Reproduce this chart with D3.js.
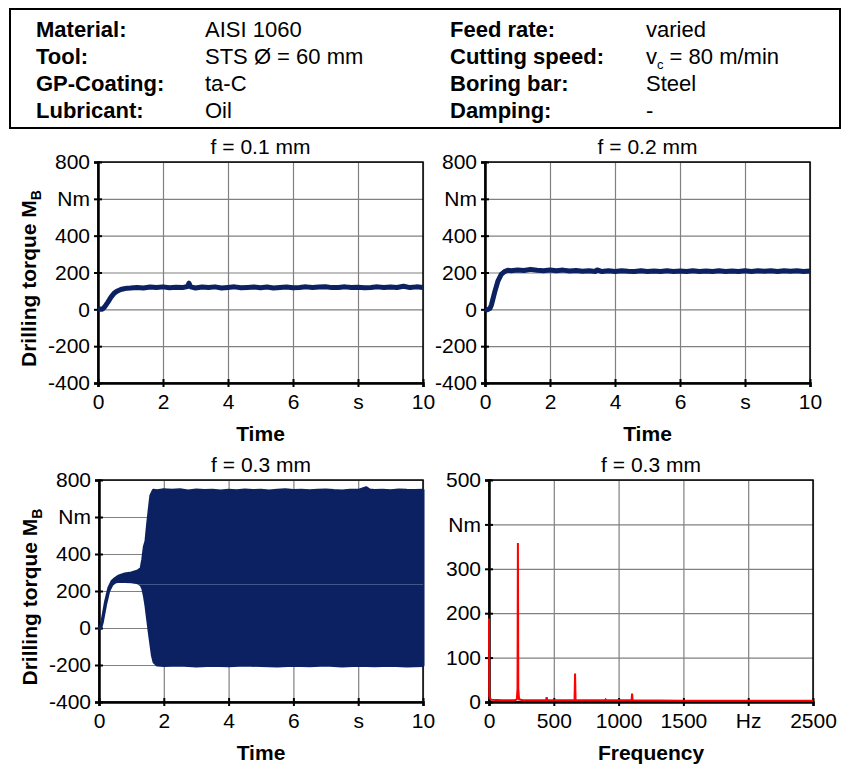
<!DOCTYPE html>
<html>
<head>
<meta charset="utf-8">
<script src="https://cdn.jsdelivr.net/npm/d3@7"></script>
<style>
body { margin: 0; background: #fff; }
text { font-family: "Liberation Sans", Arial, sans-serif; }
</style>
</head>
<body>
<div id="vis"></div>
<script>
// header table
var headLabelsLeft = ["Material:", "Tool:", "GP-Coating:", "Lubricant:"];
var headValuesLeft = ["AISI 1060", "STS Ø = 60 mm", "ta-C", "Oil"];
var headLabelsRight = ["Feed rate:", "Cutting speed:", "Boring bar:", "Damping:"];
var headValuesRight = ["varied", "v_c = 80 m/min", "Steel", "-"];

// axis ticks
var timeTicks = [0, 2, 4, 6, 8, 10];
var timeTickLabels = ["0", "2", "4", "6", "s", "10"];
var torqueTicks = [-400, -200, 0, 200, 400, 600, 800];
var torqueTickLabels = ["-400", "-200", "0", "200", "400", "Nm", "800"];
var freqTicks = [0, 500, 1000, 1500, 2000, 2500];
var freqTickLabels = ["0", "500", "1000", "1500", "Hz", "2500"];
var ampTicks = [0, 100, 200, 300, 400, 500];
var ampTickLabels = ["0", "100", "200", "300", "Nm", "500"];

// f = 0.1 mm  [time s, torque Nm]
var torque01 = [[0,4],[0.05,2],[0.1,0],[0.15,3],[0.2,12],[0.3,38],[0.4,66],[0.5,88],[0.6,100],[0.7,108],[0.8,112],
  [0.9,115],[1.0,116],[1.2,119],[1.4,116],[1.6,121],[1.8,118],[2.0,122],[2.2,117],[2.4,120],[2.6,118],[2.75,124],
  [2.8,142],[2.85,122],[3.0,116],[3.2,121],[3.4,118],[3.6,122],[3.8,116],[4.0,119],[4.2,122],[4.4,117],[4.6,119],
  [4.8,121],[5.0,117],[5.2,121],[5.4,116],[5.6,119],[5.8,121],[6.0,117],[6.2,119],[6.4,122],[6.6,118],[6.8,121],
  [7.0,123],[7.2,118],[7.4,119],[7.6,122],[7.8,118],[8.0,120],[8.2,117],[8.4,119],[8.6,122],[8.8,118],[9.0,121],
  [9.2,119],[9.4,125],[9.6,118],[9.8,122],[10,119]];

// f = 0.2 mm
var torque02 = [[0,2],[0.05,-3],[0.1,0],[0.15,4],[0.2,25],[0.3,95],[0.4,155],[0.5,190],[0.6,205],[0.7,212],[0.8,210],
  [1.0,214],[1.2,211],[1.4,217],[1.6,212],[1.8,210],[2.0,214],[2.2,209],[2.4,213],[2.6,208],[2.8,211],[3.0,207],
  [3.2,210],[3.4,206],[3.45,214],[3.6,205],[3.8,209],[4.0,206],[4.2,210],[4.4,207],[4.6,205],[4.8,209],[5.0,206],
  [5.2,208],[5.4,205],[5.6,209],[5.8,206],[6.0,208],[6.2,205],[6.4,209],[6.6,206],[6.8,208],[7.0,205],[7.2,209],
  [7.4,206],[7.6,208],[7.8,205],[8.0,209],[8.2,206],[8.4,210],[8.6,207],[8.8,209],[9.0,206],[9.2,210],[9.4,207],
  [9.6,209],[9.8,206],[10,208]];

// f = 0.3 mm, envelope of the chatter signal
var bandUpper = [[0,0],[0.05,2],[0.1,40],[0.2,140],[0.3,215],[0.4,252],[0.5,268],[0.6,280],[0.8,292],[1.0,298],
  [1.2,308],[1.3,322],[1.35,370],[1.4,440],[1.45,470],[1.5,560],[1.55,640],[1.6,715],[1.68,745],[1.8,742],[2.0,748],
  [2.25,744],[2.5,747],[2.75,741],[3.0,746],[3.25,743],[3.5,745],[3.75,740],[4.0,744],[4.25,742],[4.5,746],
  [4.75,743],[5.0,745],[5.25,741],[5.5,744],[5.75,747],[6.0,743],[6.25,745],[6.5,742],[6.75,744],[7.0,746],
  [7.25,743],[7.5,741],[7.75,745],[8.0,744],[8.25,758],[8.35,746],[8.5,743],[8.75,745],[9.0,742],[9.25,746],
  [9.5,744],[9.75,743],[10,745]];
var bandLower = [[0,0],[0.05,-2],[0.1,30],[0.2,125],[0.3,200],[0.4,235],[0.5,248],[0.6,252],[0.8,252],[1.0,250],
  [1.2,245],[1.3,232],[1.35,215],[1.4,175],[1.45,120],[1.5,50],[1.55,-20],[1.6,-85],[1.65,-150],[1.7,-185],
  [1.8,-200],[2.0,-203],[2.5,-200],[3.0,-205],[3.5,-201],[4.0,-204],[4.5,-200],[5.0,-203],[5.5,-206],[6.0,-202],
  [6.5,-204],[7.0,-200],[7.5,-205],[8.0,-202],[8.5,-204],[9.0,-201],[9.5,-205],[10,-203]];

// f = 0.3 mm, amplitude spectrum [Hz, Nm]
var spectrum = [[0,188],[2,15],[6,8],[20,5],[100,4],[200,4],[215,6],[220,30],[223,358],[226,30],[232,6],[260,4],
  [440,4],[445,11],[450,4],[660,4],[664,64],[668,4],[895,4],[900,6],[905,4],[1100,4],[1104,19],[1108,4],
  [1500,3],[2500,3]];

var navy = "#0b2161";
var fs = "21px";

var svg = d3.select("#vis").append("svg")
    .attr("width", 851)
    .attr("height", 767);

// ---- header box ----
svg.append("rect")
    .attr("x", 10).attr("y", 9)
    .attr("width", 830).attr("height", 119)
    .attr("fill", "none").attr("stroke", "#000").attr("stroke-width", 2);

var rowY = [37, 64, 91, 118];
function headCol(list, x, bold) {
    list.forEach(function(s, i) {
        var t = svg.append("text")
            .attr("x", x).attr("y", rowY[i])
            .style("font-size", "22px")
            .style("font-weight", bold ? "bold" : "normal");
        if (s.indexOf("_") > -1) {
            t.append("tspan").text("v");
            t.append("tspan").attr("dy", 5).style("font-size", "13px").text("c");
            t.append("tspan").attr("dy", -5).text(s.split("_c")[1]);
        } else {
            t.text(s);
        }
    });
}
headCol(headLabelsLeft, 36, true);
headCol(headValuesLeft, 205, false);
headCol(headLabelsRight, 450, true);
headCol(headValuesRight, 646, false);

// ---- panels ----
function panel(box, xDomain, xTicks, xLabels, yDomain, yTicks, yLabels, title, xTitle, yTitle) {
    var g = svg.append("g").attr("transform", "translate(" + box.x0 + "," + box.y0 + ")");
    var w = box.x1 - box.x0, h = box.y1 - box.y0;
    var x = d3.scaleLinear().domain(xDomain).range([0, w]);
    var y = d3.scaleLinear().domain(yDomain).range([h, 0]);

    // grid
    g.append("g").attr("class", "grid")
        .call(d3.axisLeft(y).tickValues(yTicks).tickSize(-w).tickFormat(""))
        .call(function(s) { s.select(".domain").remove(); });
    g.append("g").attr("class", "grid")
        .attr("transform", "translate(0," + h + ")")
        .call(d3.axisBottom(x).tickValues(xTicks).tickSize(-h).tickFormat(""))
        .call(function(s) { s.select(".domain").remove(); });
    g.selectAll(".grid line").attr("stroke", "#808080").attr("stroke-width", 1.2);

    // frame
    g.append("rect").attr("width", w).attr("height", h)
        .attr("fill", "none").attr("stroke", "#000").attr("stroke-width", 1.5);

    // axes
    var ya = g.append("g")
        .call(d3.axisLeft(y).tickValues(yTicks).tickSize(4).tickPadding(4)
            .tickFormat(function(d, i) { return yLabels[i]; }));
    var xa = g.append("g")
        .attr("transform", "translate(0," + h + ")")
        .call(d3.axisBottom(x).tickValues(xTicks).tickSize(4).tickPadding(7)
            .tickFormat(function(d, i) { return xLabels[i]; }));
    [ya, xa].forEach(function(a) {
        a.select(".domain").attr("stroke-width", 2.5);
        a.selectAll(".tick line").attr("stroke-width", 2);
        a.selectAll("text").style("font-size", fs).attr("fill", "#000")
            .style("font-family", '"Liberation Sans", Arial, sans-serif');
    });
    ya.selectAll(".tick line").attr("x1", 4);
    xa.selectAll(".tick line").attr("y1", -4);

    // titles
    g.append("text").attr("x", w / 2).attr("y", -8)
        .attr("text-anchor", "middle").style("font-size", fs).text(title);
    g.append("text").attr("x", w / 2).attr("y", h + 58)
        .attr("text-anchor", "middle").style("font-size", fs).style("font-weight", "bold").text(xTitle);
    if (yTitle) {
        var t = g.append("text")
            .attr("transform", "translate(" + (-62) + "," + (h / 2 + 6) + ") rotate(-90)")
            .attr("text-anchor", "middle").style("font-size", fs).style("font-weight", "bold");
        t.append("tspan").text("Drilling torque M");
        t.append("tspan").attr("dy", 5).style("font-size", "14px").text("B");
    }
    return { g: g, x: x, y: y };
}

// top left
var p1 = panel({x0: 98, x1: 423, y0: 162, y1: 383}, [0, 10], timeTicks, timeTickLabels,
    [-400, 800], torqueTicks, torqueTickLabels, "f = 0.1 mm", "Time", true);
p1.g.append("path").datum(torque01)
    .attr("fill", "none").attr("stroke", navy).attr("stroke-width", 5).attr("stroke-linejoin", "round")
    .attr("d", d3.line().x(function(d) { return p1.x(d[0]); }).y(function(d) { return p1.y(d[1]); }));

// top right
var p2 = panel({x0: 485, x1: 810, y0: 162, y1: 383}, [0, 10], timeTicks, timeTickLabels,
    [-400, 800], torqueTicks, torqueTickLabels, "f = 0.2 mm", "Time", false);
p2.g.append("path").datum(torque02)
    .attr("fill", "none").attr("stroke", navy).attr("stroke-width", 5).attr("stroke-linejoin", "round")
    .attr("d", d3.line().x(function(d) { return p2.x(d[0]); }).y(function(d) { return p2.y(d[1]); }));

// bottom left: envelope area
var p3 = panel({x0: 99, x1: 423, y0: 480, y1: 702}, [0, 10], timeTicks, timeTickLabels,
    [-400, 800], torqueTicks, torqueTickLabels, "f = 0.3 mm", "Time", true);
var bandPts = bandUpper.concat(bandLower.slice().reverse());
p3.g.append("path").datum(bandPts)
    .attr("fill", navy).attr("stroke", navy).attr("stroke-width", 3).attr("stroke-linejoin", "round")
    .attr("d", d3.line().x(function(d) { return p3.x(d[0]); }).y(function(d) { return p3.y(d[1]); }).curve(d3.curveLinearClosed));
p3.g.append("line")
    .attr("x1", p3.x(1.2)).attr("x2", p3.x(10)).attr("y1", p3.y(235)).attr("y2", p3.y(235))
    .attr("stroke", "#6b7aa6").attr("stroke-width", 1).attr("opacity", 0.6);

// bottom right: spectrum
var p4 = panel({x0: 489, x1: 813, y0: 480, y1: 702}, [0, 2500], freqTicks, freqTickLabels,
    [0, 500], ampTicks, ampTickLabels, "f = 0.3 mm", "Frequency", false);
p4.g.append("path").datum(spectrum)
    .attr("fill", "none").attr("stroke", "#ff0000").attr("stroke-width", 2)
    .attr("d", d3.line().x(function(d) { return p4.x(d[0]); }).y(function(d) { return p4.y(d[1]); }));
</script>
</body>
</html>
